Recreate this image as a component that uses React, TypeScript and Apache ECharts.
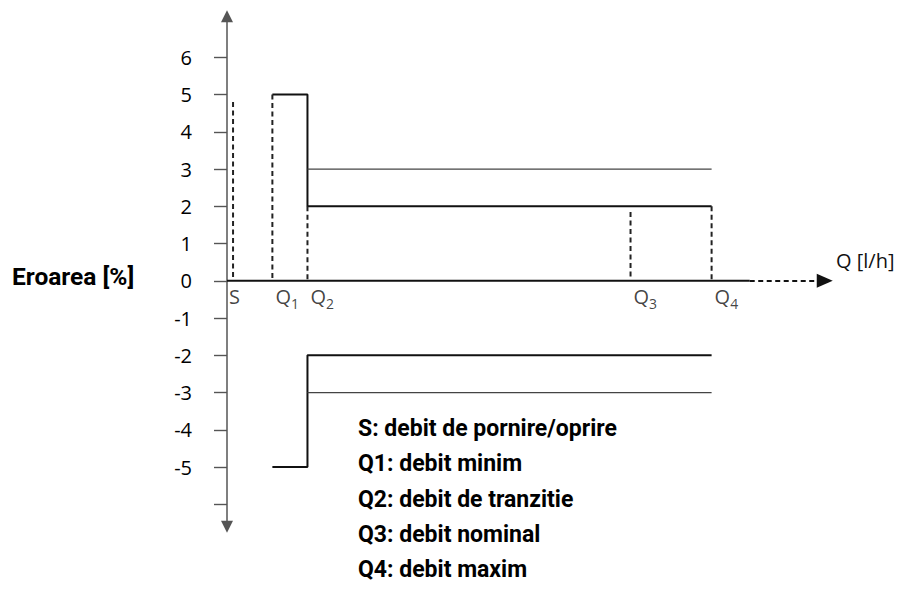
import React, { useEffect, useRef } from "react";
import * as echarts from "echarts";

// Conceptual flow positions along the Q axis (arbitrary units, 0 = origin)
const qNames = ["S", "Q1", "Q2", "Q3", "Q4"];
const qPositions = [1.0, 7.5, 13.3, 66.7, 80.1];
// top of each dashed vertical marker (error %)
const qDashTops = [4.8, 5, 2, 1.85, 2];

// Maximum permissible error limits (%)
const lowerZoneLimit = 5; // between Q1 and Q2
const upperZoneLimit = 2; // between Q2 and Q4
const thinBandLimit = 3; // thin reference band between Q2 and Q4

const yTickValues = [-6, -5, -4, -3, -2, -1, 0, 1, 2, 3, 4, 5, 6];
const yLabelValues = [-5, -4, -3, -2, -1, 0, 1, 2, 3, 4, 5, 6];

const axisSolidEnd = 86.4;
const axisArrowEnd = 98.8;

const legendLines = [
  "S: debit de pornire/oprire",
  "Q1: debit minim",
  "Q2: debit de tranzitie",
  "Q3: debit nominal",
  "Q4: debit maxim",
];

const yAxisTitle = "Eroarea [%]";
const xAxisTitle = "Q [l/h]";

export default function App() {
  const ref = useRef<HTMLDivElement>(null);

  useEffect(() => {
    if (!ref.current) return;
    const chart = echarts.init(ref.current, null, { renderer: "svg" });
    const [xS, xQ1, xQ2, xQ3, xQ4] = qPositions;

    const upperEnvelope = [
      [xQ1, lowerZoneLimit],
      [xQ2, lowerZoneLimit],
      [xQ2, upperZoneLimit],
      [xQ4, upperZoneLimit],
    ];
    const lowerEnvelope = upperEnvelope.map(([x, y]) => [x, -y]);

    const solidStyle = { color: "#111", width: 2 };
    const thinStyle = { color: "#444", width: 1.3 };
    const dashStyle = { color: "#222", width: 2, type: [5, 3.5] as any };

    const lineSeries = (name: string, data: number[][], lineStyle: any, extra: any = {}) => ({
      name,
      type: "line",
      data,
      symbol: "none",
      silent: true,
      lineStyle,
      z: 3,
      ...extra,
    });

    const dashedSeries = qPositions.map((x, i) =>
      lineSeries("dash" + qNames[i], [[x, qDashTops[i]], [x, 0]], dashStyle)
    );

    const labelFont = "'Open Sans', sans-serif";

    chart.setOption({
      animation: false,
      grid: { left: 227, right: 66, top: 16.3, bottom: 72.3, containLabel: false },
      xAxis: {
        type: "value",
        min: 0,
        max: 100,
        show: false,
      },
      yAxis: {
        type: "value",
        min: -6.6,
        max: 7.1,
        splitLine: { show: false },
        axisLine: {
          show: true,
          onZero: false,
          symbol: ["triangle", "triangle"],
          symbolSize: [12, 12],
          lineStyle: { color: "#555", width: 1.5 },
        },
        axisTick: {
          show: true,
          length: 13,
          customValues: yTickValues,
          lineStyle: { color: "#555", width: 1.4 },
        },
        axisLabel: {
          show: true,
          customValues: yLabelValues,
          margin: 35,
          color: "#000",
          fontSize: 20,
          fontFamily: labelFont,
        },
      },
      series: [
        lineSeries("upper", upperEnvelope, solidStyle),
        lineSeries("lower", lowerEnvelope, solidStyle),
        lineSeries("band+", [[xQ2, thinBandLimit], [xQ4, thinBandLimit]], thinStyle),
        lineSeries("band-", [[xQ2, -thinBandLimit], [xQ4, -thinBandLimit]], thinStyle),
        ...dashedSeries,
        lineSeries("xaxis", [[0, 0], [axisSolidEnd, 0]], solidStyle, {
          clip: false,
          markLine: {
            silent: true,
            symbol: ["none", "triangle"],
            symbolSize: [14, 16],
            label: { show: false },
            lineStyle: { color: "#111", width: 2, type: [5, 3.5] },
            data: [[{ coord: [axisSolidEnd, 0] }, { coord: [axisArrowEnd, 0] }]],
          },
        }),
        {
          name: "qLabels",
          type: "scatter",
          symbolSize: 0,
          silent: true,
          data: qPositions.map((x, i) => ({
            value: [x, 0],
            name: qNames[i],
            label: i === 0 ? { offset: [-7, 18] } : undefined,
          })),
          label: {
            show: true,
            position: "right",
            distance: 3,
            offset: [0, 18],
            color: "#111",
            formatter: (p: any) => {
              const n: string = p.name;
              if (n.length === 1) return "{q|" + n + "}";
              return "{q|" + n[0] + "}{s|" + n.slice(1) + "}";
            },
            rich: {
              q: { fontSize: 20, fontFamily: labelFont, color: "#111", verticalAlign: "bottom", padding: [0, 0, 4, 0] },
              s: { fontSize: 14, fontFamily: labelFont, color: "#111", verticalAlign: "bottom" },
            },
          },
        },
      ],
      graphic: [
        {
          type: "text",
          left: 12,
          top: 264,
          style: {
            text: yAxisTitle,
            fontSize: 24.5,
            fontWeight: "bold",
            fontFamily: "Roboto, sans-serif",
            fill: "#000",
          },
        },
        {
          type: "text",
          left: 836,
          top: 250,
          style: {
            text: xAxisTitle,
            fontSize: 20,
            fontFamily: labelFont,
            fill: "#111",
          },
        },
        ...legendLines.map((t, i) => ({
          type: "text",
          left: 358,
          top: 417 + i * 35.3,
          style: {
            text: t,
            fontSize: 23,
            fontWeight: "bold",
            fontFamily: "Roboto, sans-serif",
            fill: "#000",
          },
        })),
      ],
    });
    return () => chart.dispose();
  }, []);

  return (
    <div
      ref={ref}
      style={{ position: "fixed", left: 0, top: 0, width: 898, height: 599, background: "#fff" }}
    />
  );
}
